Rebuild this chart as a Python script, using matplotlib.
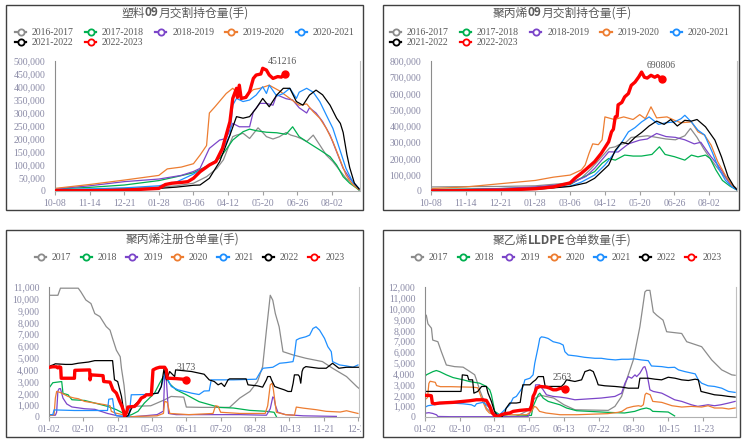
import matplotlib
matplotlib.use("Agg")
import matplotlib.pyplot as plt
from matplotlib.lines import Line2D
from matplotlib.patches import Rectangle
from matplotlib.ticker import FuncFormatter
from matplotlib.offsetbox import TextArea, HPacker, AnnotationBbox
from matplotlib.transforms import Bbox, TransformedBbox

plt.rcParams['font.family'] = ['Liberation Serif', 'Noto Sans CJK SC']

# ---------------- 塑料09月交割持仓量 (千手, x = 距10-08天数) ----------------
pe_1617 = [(0,5),(37,7),(74,10),(111,15),(130,20),(148,30),(162,55),(173,87),(180,120),(186,175),(190,209),(194,215),(201,222),(208,202),(217,243),(222,225),(226,209),(233,200),(240,209),(247,225),(252,215),(258,209),(264,200),(269,190),(276,215),(283,177),(290,138),(297,113),(304,81),(311,49),(318,30),(325,8)]
pe_1718 = [(0,8),(37,14),(74,23),(111,40),(130,55),(148,70),(162,95),(176,126),(183,160),(190,196),(201,228),(208,238),(215,232),(226,226),(237,224),(247,218),(254,247),(261,209),(272,183),(283,158),(294,132),(301,100),(308,55),(315,30),(322,12),(325,3)]
pe_1819 = [(0,8),(37,20),(74,36),(111,46),(135,60),(148,75),(155,87),(165,164),(176,196),(183,202),(190,260),(197,247),(208,247),(212,305),(219,337),(226,337),(233,330),(237,370),(247,355),(254,350),(261,320),(269,300),(272,320),(279,300),(286,267),(294,215),(301,151),(308,87),(315,49),(322,20),(325,5)]
pe_1920 = [(0,10),(37,25),(74,42),(111,60),(120,85),(135,92),(148,105),(155,138),(162,175),(165,300),(171,324),(183,375),(190,395),(201,356),(212,390),(219,395),(229,407),(240,385),(251,356),(261,330),(269,335),(276,305),(283,280),(290,241),(297,190),(304,126),(311,62),(318,25),(325,5)]
pe_2021 = [(0,5),(37,8),(74,12),(111,20),(130,35),(148,65),(160,90),(170,110),(176,138),(187,215),(190,330),(194,356),(201,344),(208,350),(215,369),(222,401),(226,375),(229,407),(237,365),(244,375),(251,395),(258,356),(261,380),(269,395),(276,380),(283,344),(290,292),(297,241),(304,164),(311,87),(318,36),(325,10)]
pe_2122 = [(0,3),(37,4),(74,6),(111,10),(130,15),(148,22),(155,23),(165,49),(176,113),(187,215),(194,286),(201,280),(208,286),(215,318),(222,356),(229,324),(237,369),(244,395),(251,395),(258,344),(265,330),(272,369),(279,388),(286,370),(294,330),(301,280),(305,260),(308,225),(312,140),(315,90),(320,30),(325,8)]
pe_2223 = [(0,1),(37,1),(74,3),(100,8),(111,10),(118,25),(125,30),(135,33),(142,36),(148,49),(155,74),(160,87),(165,100),(172,113),(179,164),(187,267),(190,356),(194,395),(195,360),(197,407),(199,356),(204,360),(208,382),(212,433),(215,446),(220,450),(222,472),(226,465),(229,446),(233,433),(238,440),(242,438),(245.5,451.216)]

# ---------------- 聚丙烯09月交割持仓量 (千手) ----------------
pp_1617 = [(0,25),(37,27),(74,28),(111,32),(148,50),(160,80),(170,135),(180,200),(190,265),(196,272),(200,285),(206,292),(213,330),(220,333),(230,340),(240,330),(250,320),(260,315),(270,340),(276,385),(283,330),(290,260),(297,200),(305,140),(312,90),(318,50),(325,15)]
pp_1718 = [(0,10),(37,12),(74,15),(111,22),(148,40),(160,80),(174,119),(182,170),(189,200),(196,190),(206,221),(215,215),(224,215),(235,225),(243,272),(249,225),(259,211),(270,190),(277,221),(284,210),(292,221),(297,200),(303,130),(310,65),(318,30),(325,8)]
pp_1819 = [(0,8),(37,10),(74,15),(111,25),(148,45),(165,90),(174,139),(189,241),(199,240),(210,290),(222,313),(230,320),(240,354),(250,335),(260,330),(270,315),(280,290),(287,300),(293,250),(298,210),(305,160),(312,100),(318,45),(325,10)]
pp_1920 = [(0,15),(37,25),(74,45),(111,65),(130,85),(148,98),(160,130),(164,160),(168,230),(172,290),(178,285),(182,315),(185,456),(195,440),(205,456),(215,440),(222,470),(228,445),(234,518),(240,450),(251,456),(259,435),(266,420),(277,425),(284,364),(291,344),(298,282),(305,180),(313,98),(320,37),(326,6)]
pp_2021 = [(0,5),(37,7),(74,10),(111,15),(148,30),(160,55),(174,98),(185,160),(196,241),(203,300),(210,364),(217,390),(224,425),(232,456),(242,410),(250,420),(259,425),(266,445),(270,466),(277,425),(284,374),(291,345),(299,241),(306,139),(313,67),(320,25),(326,5)]
pp_2122 = [(0,3),(37,4),(74,6),(111,10),(148,28),(165,50),(174,78),(189,160),(196,250),(203,300),(210,290),(217,330),(224,360),(232,400),(240,430),(248,410),(255,440),(262,400),(270,435),(277,430),(283,440),(292,395),(302,313),(309,210),(316,88),(322,30),(326,5)]
pp_2223 = [(0,0),(37,2),(74,5),(111,14),(130,25),(148,50),(153,78),(160,110),(164,129),(174,180),(181,231),(189,303),(192,364),(194,380),(196,456),(198,460),(199,530),(203,545),(206,579),(210,600),(213,650),(217,670),(221,702),(224,732),(227,700),(230,695),(234,712),(238,700),(241,710),(244,695),(246,690.806)]

# ---------------- 聚丙烯注册仓单量 (手, x = 交易日序号) ----------------
ppwr_2017 = [(0,10300),(7,10300),(9,10900),(23,10900),(25,10600),(29,9900),(33,9600),(36,8750),(40,8500),(45,7650),(48,7350),(50,6650),(53,5650),(56,5100),(57,4100),(59,2700),(60,1600),(61,500),(63,200),(65,900),(80,950),(91,1460),(96,1740),(106,1680),(108,840),(120,814),(142,814),(150,1600),(158,2160),(164,3000),(168,4265),(171,7350),(174,10300),(176,9880),(178,8750),(181,7630),(184,5530),(192,5250),(202,4970),(215,4690),(223,4125),(234,3420),(242,2580),(244,2400)]
ppwr_2018 = [(0,2450),(3,2900),(10,3000),(11,2000),(15,1880),(18,1460),(28,1400),(36,1180),(46,900),(53,620),(58,340),(61,60),(65,200),(70,480),(75,1180),(83,2020),(87,2860),(90,3420),(92,3350),(95,2800),(100,2300),(108,1880),(118,1300),(134,810),(145,760),(158,560),(171,480),(177,400),(179,0)]
ppwr_2019 = [(0,150),(5,150),(6,400),(7,2200),(8,2400),(9,2400),(10,2000),(11,1600),(14,1100),(18,850),(28,700),(36,650),(46,300),(52,150),(56,60),(60,30),(62,0),(75,100),(85,200),(90,500),(91,3700),(92,3600),(93,2000),(94,300),(100,200),(118,200),(150,200),(171,150),(174,700),(176,1700),(177,1600),(178,1000),(180,400),(186,200),(200,100),(226,50)]
ppwr_2020 = [(0,100),(4,200),(5,1600),(6,2160),(8,2100),(10,2020),(15,1740),(20,1600),(23,1550),(28,1320),(36,1180),(44,1040),(48,950),(49,480),(52,340),(60,150),(62,0),(70,50),(85,100),(90,300),(91,1320),(93,1250),(95,300),(110,200),(129,300),(131,950),(133,900),(135,400),(150,300),(170,300),(172,950),(174,2720),(175.5,2860),(176.5,2300),(178.8,400),(186,200),(193,150),(194.5,840),(200,750),(210,620),(218,480),(229,420),(234,530),(239,400),(243,300)]
ppwr_2021 = [(0,200),(3,200),(4,600),(20,550),(46,550),(47,1500),(50,1550),(51.5,400),(53,100),(63,50),(64.7,1880),(75,1900),(85.7,2020),(88.3,2580),(90.4,3420),(91.7,3985),(93.6,3140),(96.2,2580),(101.4,2300),(112,2020),(118,1900),(122,2200),(126,2217),(127.6,3143),(145,3143),(163,3199),(165.7,3704),(168.3,4125),(176,4209),(181.4,4546),(186.6,4602),(191.9,4686),(193,5247),(194.5,6510),(197,6650),(202,6790),(205,6930),(207.6,7490),(210,7632),(212.8,7350),(216.7,6650),(219.3,5950),(222,5530),(223,4686),(228.5,4405),(234,4321),(239,4209),(243,4405)]
ppwr_2022 = [(0,4300),(3,4400),(5,4500),(13,4450),(18,4450),(23,4550),(31,4650),(36,4770),(50,4770),(51.5,3150),(54,3000),(57,1740),(59,340),(60,0),(62,100),(65,750),(69,1180),(75,1800),(80,1950),(85.7,2020),(88.3,2580),(90.4,4040),(92.3,3143),(94.9,3844),(98.8,3423),(99.6,3985),(112,3850),(122,3620),(126,3143),(130,3003),(133,2722),(135.5,2860),(138,2580),(140.8,3143),(142,3227),(155,3227),(156.5,2722),(164,2638),(168,2525),(171,3143),(172,3423),(174,3423),(175,3143),(177.5,2580),(181,2441),(185,2300),(188,2160),(190.6,2160),(192,2860),(193,3564),(196,3564),(197,3423),(198,2860),(199,3844),(200,4125),(202,4265),(212,4125),(218,4125),(223,4546),(228,4125),(234,4209),(244,4209)]
ppwr_2023 = [(0,4200),(3,4250),(6,4250),(7,4150),(8,4250),(9.2,4200),(9.6,3280),(20,3280),(20.3,3950),(32,3985),(32.3,3143),(33,3564),(42.5,3500),(43,3003),(48,2950),(50.3,2300),(53,2020),(55.6,1320),(57.4,900),(58.7,477),(59.5,56),(61.3,477),(62,842),(67.4,898),(70,1180),(72.6,1600),(75.2,1740),(76.5,1880),(80.5,1880),(81.8,3985),(84.4,4125),(87,4209),(91,4209),(92.3,3985),(93,3283),(100,3250),(108,3173)]

# ---------------- 聚乙烯LLDPE仓单数量 (手) ----------------
pewr_2017 = [(0,9400),(1,9400),(2.3,8600),(5,8200),(6,7100),(10,6950),(12.7,6030),(16.6,4800),(23,4650),(29.6,4600),(34.8,4200),(38.6,3900),(40,3430),(42.5,2500),(46.4,1300),(47.7,830),(50.3,520),(52.9,210),(58,60),(70,0),(80,600),(85,1700),(90,2000),(100,1750),(108,1130),(116.5,670),(142.4,610),(147.6,980),(152.8,1900),(156.7,3430),(161.9,5270),(167,8330),(170.9,11540),(172.2,11690),(174.8,11690),(177.4,9700),(180,9400),(185,8940),(187.8,7870),(199.5,7710),(203.4,6950),(215,6490),(222.8,5270),(230.6,4350),(238.4,3890),(241,3850)]
pewr_2018 = [(0,3730),(1,3890),(6.2,4190),(8.8,4290),(11.4,4190),(16.6,3890),(21.8,3640),(29.6,3430),(34.8,3270),(42.5,3120),(47.7,2820),(50.3,2510),(51.6,2050),(52.9,1290),(54.2,520),(58,210),(65,50),(82.7,150),(84,980),(88,2050),(89.2,2200),(91.8,1750),(95.7,1440),(104.8,1130),(110,830),(117.8,580),(142,430),(155,370),(163,520),(168,730),(172,830),(175,730),(177,520),(189,460),(194,100)]
pewr_2019 = [(0,350),(3,400),(6,330),(9,200),(10,50),(20,30),(80,30),(82,500),(85,2200),(86,2970),(89,2970),(91.8,2510),(94.4,2050),(99.6,1900),(104.8,1840),(110,1750),(116.5,1590),(137,1750),(147.6,1900),(152.8,2200),(155.4,3120),(158,3730),(160.6,3580),(163.2,3890),(164.5,3730),(167,4040),(169.7,4590),(170.9,4650),(172.2,4190),(174.8,2510),(177.4,2360),(184,2200),(189,1900),(194,1590),(199.5,1440),(207,1130),(212,980),(220,1130),(225,1040),(230,1130),(236,1290),(241,1440)]
pewr_2020 = [(0,1600),(2,1800),(3,3100),(4,3300),(8,3200),(9,2900),(12,2800),(20,2800),(37,2750),(41,2700),(42.5,2200),(45,1400),(47.7,670),(50,370),(55,210),(79,210),(82.7,520),(85,980),(86.6,890),(89,520),(94,370),(105,210),(118,210),(142,310),(150,430),(153,520),(157,830),(162,980),(166,1040),(168,980),(169.7,1130),(171,2050),(172,2200),(175,2050),(177,1440),(184,1350),(192,1040),(199.5,920),(207,980),(215,920),(220,1040),(225,830),(231,830),(236,740),(241,830)]
pewr_2021 = [(0,900),(2.3,1040),(11.4,1220),(19.2,1290),(29.6,1220),(36,1130),(38.6,980),(40,1220),(45,1350),(47.7,1130),(50.3,830),(52.9,370),(58,210),(60.7,520),(63.3,830),(65.9,1130),(68.5,1750),(71,1900),(73.7,2360),(76.3,2820),(77.6,3430),(81.5,3580),(84,3890),(85.3,4960),(88,6490),(89.2,7250),(90.5,7400),(93,7350),(95.7,7250),(99.6,6950),(104.8,6800),(107.4,6640),(108.7,6030),(111.3,5720),(117.8,5630),(124,5510),(132,5420),(137,5420),(142,5330),(148,5270),(153,5330),(158,5330),(163,5360),(168,5270),(173.5,5200),(176,4710),(184,4650),(189,4560),(194,4590),(197,4350),(202,4190),(210,3980),(212.4,3430),(215,3120),(220,2880),(225,2820),(230.6,2660),(235.8,2360),(241,2270)]
pewr_2022 = [(0,2360),(28,2360),(29,3890),(33,3830),(34,3430),(37,3430),(38,2200),(41,2360),(44,2820),(47.7,2820),(49,2200),(51.6,1440),(54,520),(57,0),(60,50),(62,370),(63,800),(65.9,1290),(71,1290),(74,1350),(76,2970),(81.5,2970),(84,3250),(86,3430),(88,3730),(92,3730),(93.4,2820),(106,2820),(108,3050),(110,3430),(116.5,3280),(121.7,3430),(124.3,4190),(128.2,4350),(130.8,4190),(133.3,3430),(134.6,2970),(139.8,2880),(147.6,2820),(152.8,2760),(158,2660),(165.8,2660),(167,3580),(173.5,3580),(178.7,3490),(183.9,3430),(189,3670),(194.3,3580),(199.5,3430),(204.7,3370),(210,3490),(212.4,3430),(214.5,2360),(220,2200),(225,2050),(230.6,1990),(235.8,1900),(241,1840)]
pewr_2023 = [(0,2000),(3.6,1990),(4.9,1960),(5.7,1290),(7.5,1220),(11.4,1290),(21.8,1350),(29.6,1440),(34.8,1500),(40,1590),(45,1590),(47.7,1530),(50.3,980),(52.4,370),(54.2,120),(56.8,60),(59.4,210),(62,310),(65.9,370),(68.5,520),(73.7,610),(79,670),(81.5,670),(82.7,980),(84,1900),(85.3,2200),(86.6,2660),(89.2,2820),(94.4,2760),(97,2660),(99.6,2510),(102,2510),(104.8,2630),(107.4,2660),(108.7,2563)]

season_labels = ['2016-2017', '2017-2018', '2018-2019', '2019-2020', '2020-2021', '2021-2022', '2022-2023']
year_labels = ['2017', '2018', '2019', '2020', '2021', '2022', '2023']
colors = ['#8c8c8c', '#00b050', '#7b45c9', '#ed7d31', '#1e8fff', '#000000', '#ff0000']
top_ticks = ['10-08', '11-14', '12-21', '01-28', '03-06', '04-12', '05-20', '06-26', '08-02']
pp_wr_ticks = ['01-02', '02-10', '03-21', '05-03', '06-11', '07-20', '08-28', '10-13', '11-21', '12-29']
pe_wr_ticks = ['01-02', '02-10', '03-21', '05-05', '06-13', '07-22', '08-30', '10-15', '11-23']

W, H = 744, 441
fig = plt.figure(figsize=(W / 100, H / 100), dpi=100)


def fx(px):
    return px / W


def fy(py):
    return 1 - py / H


TXT = '#595959'
TICK = '#8a8aa6'
CJK = ['Noto Sans CJK SC', 'DejaVu Sans']


def panel(box, plot, series, labels, scale, xmax, step, ticks, ymax, ystep, end_label, ncol, leg_xy):
    # outer frame
    x0, y0, x1, y1 = box
    fig.add_artist(Rectangle((fx(x0), fy(y1)), fx(x1) - fx(x0), fy(y0) - fy(y1),
                             transform=fig.transFigure, fill=False, edgecolor='#404040', lw=1))
    l, t, r, b = plot
    ax = fig.add_axes([fx(l), fy(b), fx(r) - fx(l), fy(t) - fy(b)])
    for i, s in enumerate(series):
        xs = [p[0] for p in s]
        ys = [p[1] * scale for p in s]
        red = i == len(series) - 1
        ax.plot(xs, ys, color=colors[i], lw=2.4 if red else 0.9, zorder=3 if red else 2)
        if red:
            ax.plot(xs[-1], ys[-1], 'o', color=colors[i], ms=5, zorder=4)
            ax.text(end_label[0], end_label[1], end_label[2], ha='center', va='center',
                    fontsize=7, color=TXT, clip_on=False)
    ax.set_xlim(0, xmax)
    ax.set_ylim(0, ymax)
    ax.set_xticks([i * step for i in range(len(ticks))])
    ax.set_xticklabels(ticks)
    ax.set_yticks(range(0, ymax + 1, ystep))
    ax.yaxis.set_major_formatter(FuncFormatter(lambda v, p: f'{int(v):,}'))
    ax.tick_params(axis='y', length=0, pad=7, labelsize=7, labelcolor=TICK)
    ax.tick_params(axis='x', length=3, width=0.8, color='#a0a0a0', pad=3, labelsize=7, labelcolor=TICK)
    ax.spines['top'].set_visible(False)
    ax.spines['left'].set_color('#8c8c8c')
    ax.spines['bottom'].set_color('#b0b0b0')
    ax.spines['right'].set_color('#c0c0c0')
    ax.patch.set_alpha(0)

    # legend (open circle markers), filled row by row
    handles = [Line2D([], [], color=c, lw=1.6, marker='o', ms=4.5, mfc='white', mew=1.3) for c in colors]
    n = len(handles)
    nrows = -(-n // ncol)
    order = [r * ncol + c for c in range(ncol) for r in range(nrows) if r * ncol + c < n]
    leg = ax.legend([handles[k] for k in order], [labels[k] for k in order], ncol=ncol,
                    loc='upper left', bbox_to_anchor=(fx(leg_xy[0]), fy(leg_xy[1])),
                    bbox_transform=fig.transFigure, frameon=False, fontsize=7,
                    handlelength=1.15, handletextpad=0.6, columnspacing=1.15 if ncol == 5 else 0.95,
                    labelspacing=0.15, borderpad=0, borderaxespad=0)
    for tx in leg.get_texts():
        tx.set_color(TXT)
    return ax


def title(ax, parts, cx, cy):
    boxes = [TextArea(s, textprops=dict(fontsize=8.5, color=TXT, family=CJK,
                                        fontweight='bold' if bold else 'normal')) for s, bold in parts]
    pack = HPacker(children=boxes, align='baseline', pad=0, sep=0)
    ab = AnnotationBbox(pack, (fx(cx), fy(cy)), xycoords='figure fraction', frameon=False,
                        box_alignment=(0.5, 0.5), annotation_clip=False)
    ax.add_artist(ab)


ax1 = panel((6, 5, 363, 210), (55, 61, 360, 191),
            [pe_1617, pe_1718, pe_1819, pe_1920, pe_2021, pe_2122, pe_2223], season_labels, 1000,
            326, 37, top_ticks, 500000, 50000, (243, 500000, '451216'), 5, (15, 28))
title(ax1, [('塑料', False), ('09', True), ('月交割持仓量(手)', False)], 185, 13)

ax2 = panel((383, 5, 739, 210), (431, 61, 737, 191),
            [pp_1617, pp_1718, pp_1819, pp_1920, pp_2021, pp_2122, pp_2223], season_labels, 1000,
            325.5, 37, top_ticks, 800000, 100000, (244.6, 771000, '690806'), 5, (390, 28))
title(ax2, [('聚丙烯', False), ('09', True), ('月交割持仓量(手)', False)], 562, 13)

ax3 = panel((6, 230, 363, 437), (49, 287, 359, 417),
            [ppwr_2017, ppwr_2018, ppwr_2019, ppwr_2020, ppwr_2021, ppwr_2022, ppwr_2023], year_labels, 1,
            243.8, 27, pp_wr_ticks, 11000, 1000, (108, 4180, '3173'), 7, (35, 253))
title(ax3, [('聚丙烯注册仓单量(手)', False)], 182, 239)
clip = TransformedBbox(Bbox.from_extents(fx(6), fy(437), fx(361), fy(230)), fig.transFigure)
for lbl in ax3.get_xticklabels():
    lbl.set_clip_box(clip)
    lbl.set_clip_on(True)

ax4 = panel((383, 230, 740, 437), (425, 287, 736, 417),
            [pewr_2017, pewr_2018, pewr_2019, pewr_2020, pewr_2021, pewr_2022, pewr_2023], year_labels, 1,
            241.7, 27, pe_wr_ticks, 12000, 1000, (107, 3640, '2563'), 7, (412, 253))
title(ax4, [('聚乙烯', False), ('LLDPE', True), ('仓单数量(手)', False)], 562, 240)

fig.savefig('out.png', dpi=100)
